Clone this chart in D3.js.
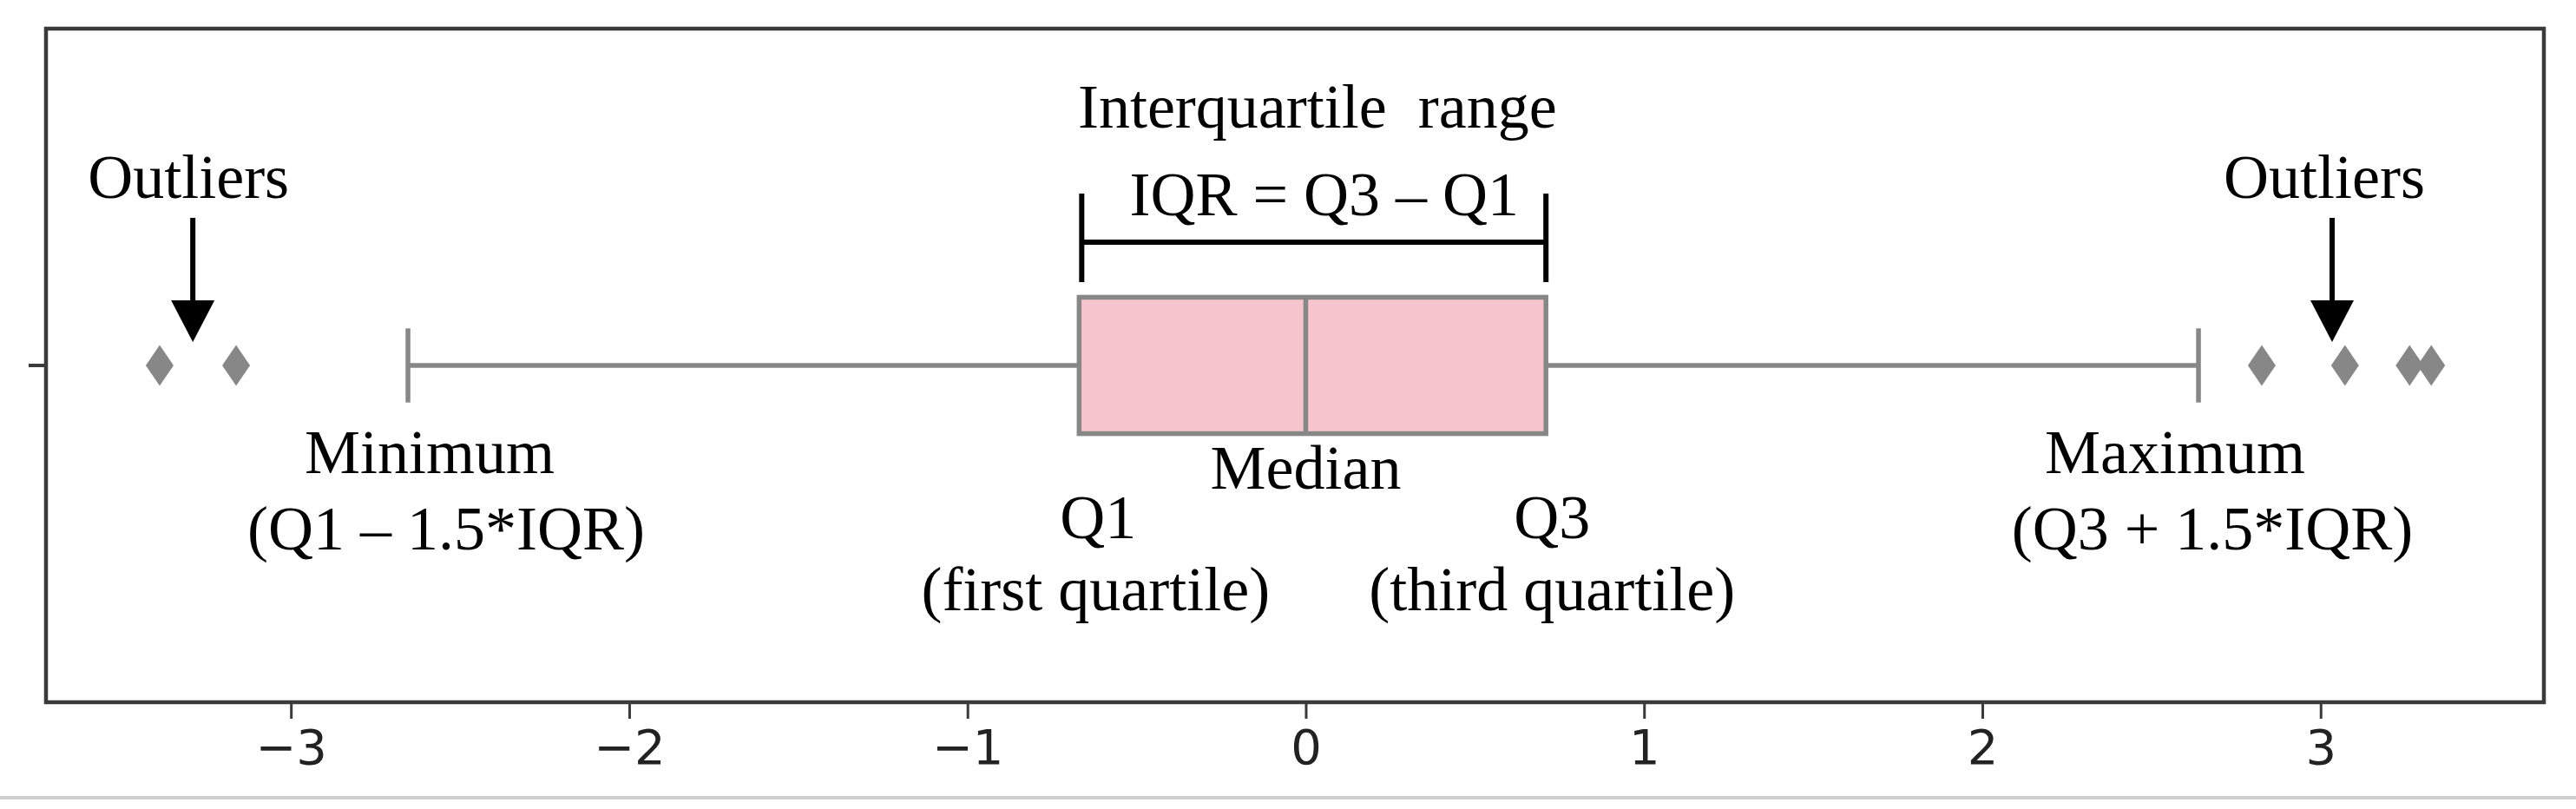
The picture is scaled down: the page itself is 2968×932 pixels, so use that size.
<!DOCTYPE html>
<html>
<head>
<meta charset="utf-8">
<script src="https://cdn.jsdelivr.net/npm/d3@7"></script>
<style>
  html, body { margin: 0; padding: 0; background: #ffffff; }
  svg { display: block; }
  .ann { font-family: "Liberation Serif", "Times New Roman", serif; fill: #000; white-space: pre; }
  .tick text { font-family: "DejaVu Sans", sans-serif; }
</style>
</head>
<body>
<script>
// ---------------- data ----------------
const categories = [""];
const xTickValues = [-3, -2, -1, 0, 1, 2, 3];
const quartiles = [-0.67, 0.0, 0.71];          // Q1, median, Q3
const whiskers = [-2.654, 2.639];              // lower, upper whisker ends
const outliers = [-3.388, -3.162, 2.826, 3.072, 3.263, 3.327];
const xDomain = [-3.724, 3.66];

// annotation texts
const outlierLabel = "Outliers";
const outlierArrowAt = [-3.29, 3.034];
const iqrTitle = "Interquartile  range";
const iqrFormula = "IQR = Q3 \u2013 Q1";
const minLabels = ["Minimum", "(Q1 \u2013 1.5*IQR)"];
const maxLabels = ["Maximum", "(Q3 + 1.5*IQR)"];
const medianLabel = "Median";
const q1Labels = ["Q1", "(first quartile)"];
const q3Labels = ["Q3", "(third quartile)"];

// ---------------- layout ----------------
const W = 2968, H = 932;
const plot = { left: 53, right: 2931, top: 33, bottom: 809 };
const gray = "#878787";
const pink = "#f5c4cd";
const axisColor = "#3a3a3a";

const svg = d3.select("body").append("svg")
  .attr("width", W).attr("height", H)
  .attr("viewBox", `0 0 ${W} ${H}`);

svg.append("rect").attr("width", W).attr("height", H).attr("fill", "#fff");

const x = d3.scaleLinear().domain(xDomain).range([plot.left, plot.right]);
const y = d3.scaleBand().domain(categories).range([plot.bottom, plot.top]);
const cy = y(categories[0]) + y.bandwidth() / 2;
const boxH = y.bandwidth() * 0.2025;
const capH = y.bandwidth() * 0.11;

const [q1, med, q3] = quartiles;
const lw = 5.5;

// whiskers
const g = svg.append("g");
g.append("line").attr("x1", x(whiskers[0])).attr("x2", x(q1))
  .attr("y1", cy).attr("y2", cy).attr("stroke", gray).attr("stroke-width", lw);
g.append("line").attr("x1", x(q3)).attr("x2", x(whiskers[1]))
  .attr("y1", cy).attr("y2", cy).attr("stroke", gray).attr("stroke-width", lw);
g.selectAll("line.cap").data(whiskers).enter().append("line")
  .attr("class", "cap")
  .attr("x1", d => x(d)).attr("x2", d => x(d))
  .attr("y1", cy - capH / 2).attr("y2", cy + capH / 2)
  .attr("stroke", gray).attr("stroke-width", lw);

// box
g.append("rect")
  .attr("x", x(q1)).attr("y", cy - boxH / 2)
  .attr("width", x(q3) - x(q1)).attr("height", boxH)
  .attr("fill", pink).attr("stroke", gray).attr("stroke-width", lw);
g.append("line").attr("x1", x(med)).attr("x2", x(med))
  .attr("y1", cy - boxH / 2).attr("y2", cy + boxH / 2)
  .attr("stroke", gray).attr("stroke-width", lw);

// outliers (thin diamonds)
const dW = 16, dH = 23.5;
g.selectAll("path.out").data(outliers).enter().append("path")
  .attr("class", "out")
  .attr("d", d => {
    const cx = x(d);
    return `M${cx},${cy - dH}L${cx + dW},${cy}L${cx},${cy + dH}L${cx - dW},${cy}Z`;
  })
  .attr("fill", gray);

// frame (spines)
svg.append("rect")
  .attr("x", plot.left).attr("y", plot.top)
  .attr("width", plot.right - plot.left).attr("height", plot.bottom - plot.top)
  .attr("fill", "none").attr("stroke", axisColor).attr("stroke-width", 4.5);

// x axis
const xAxis = d3.axisBottom(x).tickValues(xTickValues)
  .tickSize(19).tickPadding(12)
  .tickFormat(d => d < 0 ? "\u2212" + Math.abs(d) : String(d));
const ax = svg.append("g").attr("transform", `translate(0,${plot.bottom})`).call(xAxis);
ax.select(".domain").remove();
ax.selectAll(".tick line").attr("stroke", axisColor).attr("stroke-width", 3);
ax.selectAll(".tick text").attr("fill", "#222").attr("font-size", 56);

// y axis (single unlabeled tick)
const yAxis = d3.axisLeft(y).tickSize(20).tickFormat(() => "");
const ay = svg.append("g").attr("transform", `translate(${plot.left},0)`).call(yAxis);
ay.select(".domain").remove();
ay.selectAll(".tick line").attr("stroke", axisColor).attr("stroke-width", 4);

// ---------------- annotations ----------------
const fs = 72;
function txt(str, cx, baseline) {
  svg.append("text").attr("class", "ann")
    .attr("x", cx).attr("y", baseline)
    .attr("text-anchor", "middle").attr("font-size", fs)
    .text(str);
}

// Outliers labels + arrows
outlierArrowAt.forEach((v, i) => {
  const ax0 = x(v);
  txt(outlierLabel, ax0 + (i === 0 ? -5 : -9), cy - 193);
  svg.append("line").attr("x1", ax0).attr("x2", ax0)
    .attr("y1", cy - 170).attr("y2", cy - 74)
    .attr("stroke", "#000").attr("stroke-width", 6);
  svg.append("path")
    .attr("d", `M${ax0 - 25},${cy - 75}L${ax0 + 25},${cy - 75}L${ax0},${cy - 27}Z`)
    .attr("fill", "#000");
});

// IQR bracket
const bl = x(q1) + 3, br = x(q3);
svg.append("path")
  .attr("d", `M${bl},${cy - 198}V${cy - 96}M${bl},${cy - 142}H${br}M${br},${cy - 198}V${cy - 96}`)
  .attr("fill", "none").attr("stroke", "#000").attr("stroke-width", 6);
txt(iqrTitle, (bl + br) / 2 + 4, cy - 274);
txt(iqrFormula, (bl + br) / 2 + 12, cy - 173);

// min / max
txt(minLabels[0], x(whiskers[0]) + 25, cy + 124);
txt(minLabels[1], x(whiskers[0]) + 44, cy + 212);
txt(maxLabels[0], x(whiskers[1]) - 27, cy + 124);
txt(maxLabels[1], x(whiskers[1]) + 16, cy + 212);

// median, quartiles
txt(medianLabel, x(med), cy + 142);
txt(q1Labels[0], x(q1) + 22, cy + 199);
txt(q1Labels[1], x(q1) + 19, cy + 282);
txt(q3Labels[0], x(q3) + 7, cy + 199);
txt(q3Labels[1], x(q3) + 7, cy + 282);

// bottom screenshot edge line
svg.append("rect").attr("x", 0).attr("y", 917).attr("width", W).attr("height", 4)
  .attr("fill", "#cfcfcf");
</script>
</body>
</html>
